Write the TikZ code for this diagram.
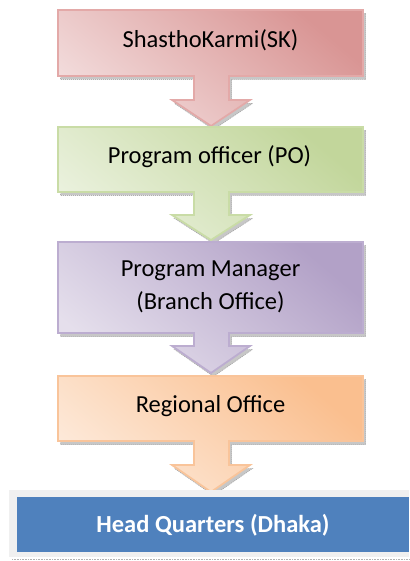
\documentclass[tikz,border=0pt]{standalone}
\usepackage{fontspec}
\setmainfont{Carlito}
\begin{document}
\begin{tikzpicture}[x=1pt,y=-1pt,
  lbl/.style={inner sep=0pt,font=\fontsize{24.5}{33}\selectfont,align=center,text=black},
  shadowstyle/.style={fill=black!40,fill opacity=0.55,draw=black!55,draw opacity=0.5,dash pattern=on 1pt off 1pt,line width=0.6pt}
]
\useasboundingbox (0,0) rectangle (409,561);
% generic callout path macro: #1=top, #2=bottom, #3=head top, #4=tip
\newcommand{\calloutpath}[4]{(58,#1) -- (363,#1) -- (363,#2) -- (229,#2) -- (229,#3) -- (250,#3) -- (211,#4) -- (172,#3) -- (194,#3) -- (194,#2) -- (58,#2) -- cycle}
\newcommand{\callout}[7]{%
  % shadow
  \path[shadowstyle,shift={(2.5,3.5)}] \calloutpath{#1}{#2}{#3}{#4};
  \path[draw=#7,line width=1.8pt,shading=axis,top color=#5,middle color=#6!60!white,bottom color=#6,shading angle=-40] \calloutpath{#1}{#2}{#3}{#4};
}
% colours
\definecolor{pinkD}{HTML}{D99594}
\definecolor{pinkL}{HTML}{F2DBDB}
\definecolor{pinkB}{HTML}{E3A9A8}
\definecolor{greenD}{HTML}{C2D69B}
\definecolor{greenL}{HTML}{EAF1DD}
\definecolor{greenB}{HTML}{C9DCA6}
\definecolor{purpD}{HTML}{B2A1C7}
\definecolor{purpL}{HTML}{E5DFEC}
\definecolor{purpB}{HTML}{BCADD0}
\definecolor{orD}{HTML}{FABF8F}
\definecolor{orL}{HTML}{FDE9D9}
\definecolor{orB}{HTML}{F9C49A}
\definecolor{hqblue}{HTML}{4F81BD}

\callout{10}{76}{100}{126}{pinkD}{pinkL}{pinkB}
\callout{127}{192}{215}{240}{greenD}{greenL}{greenB}
\callout{242}{333}{346}{373}{purpD}{purpL}{purpB}
\callout{376}{441}{465}{492}{orD}{orL}{orB}

\node[lbl] (sk) at (210.5,40) {ShasthoKarmi(SK)};
\node[lbl] (po) at (209.5,157) {Program officer (PO)};
\node[lbl] (pm) at (210.5,287) {Program Manager\\(Branch Office)};
\node[lbl] (ro) at (210.5,406) {Regional Office};

% Head quarters
\fill[black!6] (9,490) rectangle (409,557);
\fill[hqblue] (17,497) rectangle (409,552);
\draw[black!30,dash pattern=on 0.6pt off 1pt] (12,559) -- (409,559);
\node[lbl,text=white,font=\fontsize{24.5}{30}\selectfont\bfseries] (hq) at (213,525) {Head Quarters (Dhaka)};
\end{tikzpicture}
\end{document}
